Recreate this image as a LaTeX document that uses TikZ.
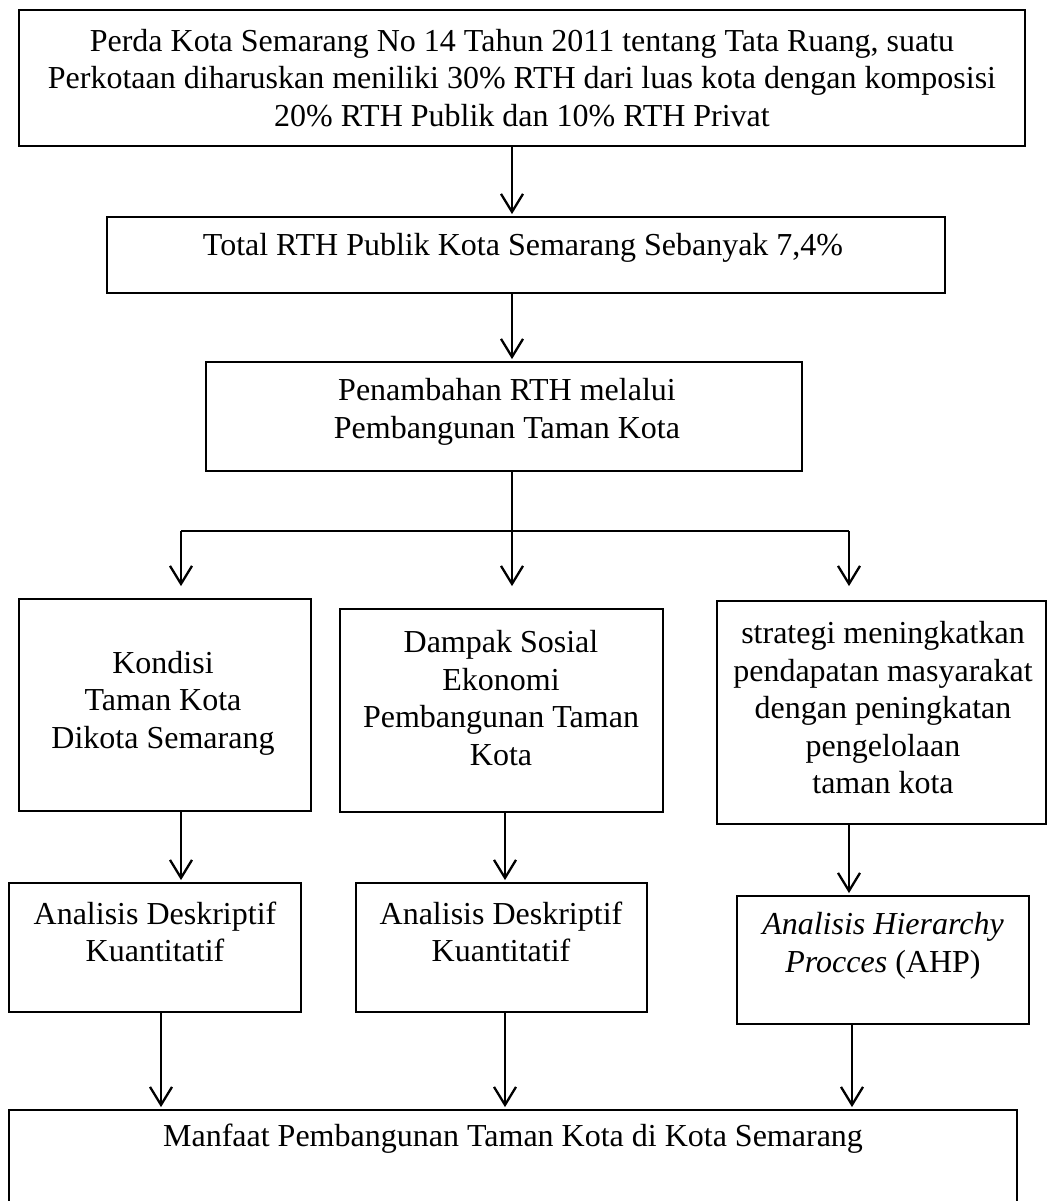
\documentclass[tikz,border=0pt]{standalone}
\usepackage{fontspec}
\setmainfont{Liberation Serif}
\usetikzlibrary{arrows.meta}
\begin{document}
\begin{tikzpicture}[x=1pt,y=-1pt,
  box/.style={draw=black,line width=1.8pt,rectangle,inner sep=0pt},
  txt/.style={align=center,inner sep=0pt,font=\fontsize{32}{37.5}\selectfont},
  conn/.style={line width=2.3pt},
  arr/.style={line width=2.3pt,-{Straight Barb[length=18pt,width=22pt,line width=2.3pt]},shorten >=2pt}]
\useasboundingbox (0,0) rectangle (1047,1201);
\clip (0,0) rectangle (1047,1201);
% boxes
\node[box,minimum width=1006pt,minimum height=136pt] (b1) at (522,78) {};
\node[box,minimum width=838pt,minimum height=76pt] (b2) at (526,255) {};
\node[box,minimum width=596pt,minimum height=109pt] (b3) at (504,416.5) {};
\node[box,minimum width=292pt,minimum height=212pt] (l1) at (165,705) {};
\node[box,minimum width=323pt,minimum height=203pt] (m1) at (501.5,710.5) {};
\node[box,minimum width=329pt,minimum height=223pt] (r1) at (881.5,712.5) {};
\node[box,minimum width=292pt,minimum height=129pt] (l2) at (155,947.5) {};
\node[box,minimum width=291pt,minimum height=129pt] (m2) at (501.5,947.5) {};
\node[box,minimum width=292pt,minimum height=128pt] (r2) at (883,960) {};
\node[box,minimum width=1008pt,minimum height=120pt] (bt) at (513,1170) {};
% texts
\node[txt] (t1) at (522,78) {Perda Kota Semarang No 14 Tahun 2011 tentang Tata Ruang, suatu\\Perkotaan diharuskan meniliki 30\% RTH dari luas kota dengan komposisi\\20\% RTH Publik dan 10\% RTH Privat};
\node[txt] (t2) at (523,248) {Total RTH Publik Kota Semarang Sebanyak 7,4\%};
\node[txt] (t3) at (507,412) {Penambahan RTH melalui\\Pembangunan Taman Kota};
\node[txt] (tl1) at (163,703) {Kondisi\\Taman Kota\\Dikota Semarang};
\node[txt] (tm1) at (501,698) {Dampak Sosial\\Ekonomi\\Pembangunan Taman\\Kota};
\node[txt] (tr1) at (883,708) {strategi meningkatkan\\pendapatan masyarakat\\dengan peningkatan\\pengelolaan\\taman kota};
\node[txt] (tl2) at (155,932) {Analisis Deskriptif\\Kuantitatif};
\node[txt] (tm2) at (501,932) {Analisis Deskriptif\\Kuantitatif};
\node[txt] (tr2) at (883,946) {\textit{Analisis Hierarchy}\\\textit{Procces} (AHP)};
\node[txt] (tb) at (513,1139) {Manfaat Pembangunan Taman Kota di Kota Semarang};
% connector columns
\coordinate (cC) at (512,0);
\coordinate (cL) at (181,0);
\coordinate (cR) at (849,0);
\coordinate (cM) at (505,0);
\coordinate (dL) at (161,0);
\coordinate (dR) at (852,0);
\coordinate (j) at (512,531);
% connectors
\draw[arr] (b1.south -| cC) -- (b2.north -| cC);
\draw[arr] (b2.south -| cC) -- (b3.north -| cC);
\draw[conn] (b3.south -| cC) -- (j);
\draw[conn] (j -| cL) -- (j -| cR);
\draw[arr,shorten >=12pt] (j -| cL) -- (l1.north -| cL);
\draw[arr,shorten >=22pt] (j) -- (m1.north -| j);
\draw[arr,shorten >=14pt] (j -| cR) -- (r1.north -| cR);
\draw[arr] (l1.south -| cL) -- (l2.north -| cL);
\draw[arr] (m1.south -| cM) -- (m2.north -| cM);
\draw[arr] (r1.south -| cR) -- (r2.north -| cR);
\draw[arr] (l2.south -| dL) -- (bt.north -| dL);
\draw[arr] (m2.south -| cM) -- (bt.north -| cM);
\draw[arr] (r2.south -| dR) -- (bt.north -| dR);
\end{tikzpicture}
\end{document}
